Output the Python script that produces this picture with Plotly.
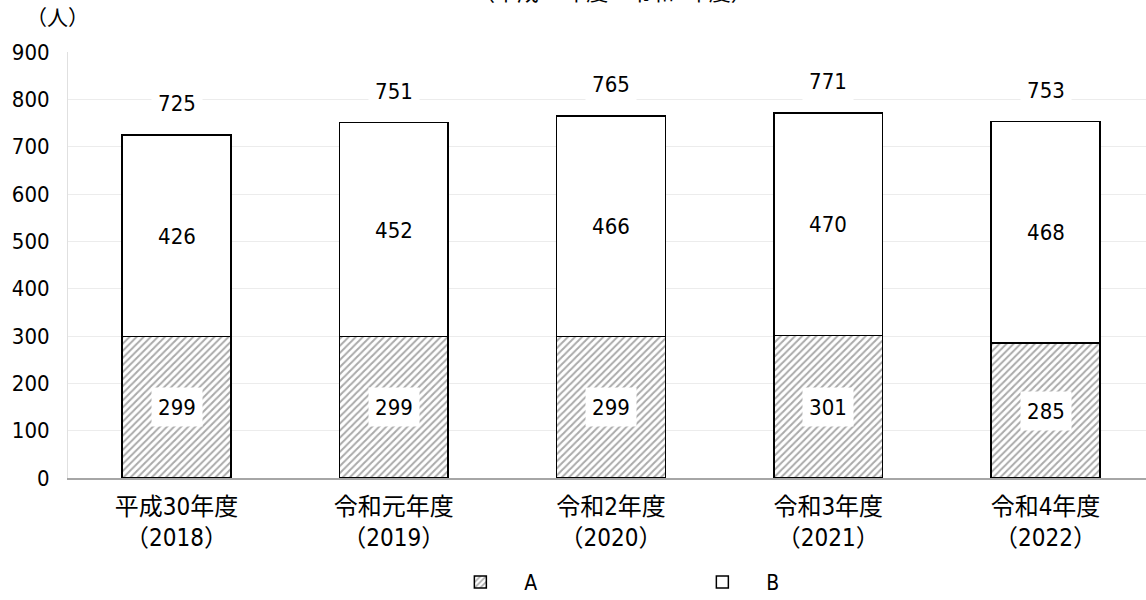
import plotly.graph_objects as go

categories = ["平成30年度<br>（2018）", "令和元年度<br>（2019）", "令和2年度<br>（2020）",
              "令和3年度<br>（2021）", "令和4年度<br>（2022）"]
series_a = [299, 299, 299, 301, 285]
series_b = [426, 452, 466, 470, 468]
totals = [725, 751, 765, 771, 753]
y_ticks = [0, 100, 200, 300, 400, 500, 600, 700, 800, 900]
title_text = "（平成30年度～令和4年度）"
unit_text = "（人）"

FONT = "DejaVu Sans Condensed, Noto Sans CJK JP, sans-serif"

fig = go.Figure()
fig.add_trace(go.Bar(
    x=categories, y=series_a, name="A", width=0.5,
    marker=dict(color="white", line=dict(color="black", width=1.5),
                pattern=dict(shape="/", fgcolor="#555555", bgcolor="white", size=5, solidity=0.4)),
))
fig.add_trace(go.Bar(
    x=categories, y=series_b, name="B", width=0.5,
    marker=dict(color="white", line=dict(color="black", width=1.5)),
))

ann = []
for c, a, b, t in zip(categories, series_a, series_b, totals):
    ann.append(dict(x=c, y=a / 2, text=str(a), showarrow=False, bgcolor="white",
                    width=48, height=36, font=dict(size=22, color="black", family=FONT)))
    ann.append(dict(x=c, y=a + b / 2, text=str(b), showarrow=False, bgcolor="white",
                    width=48, height=36, font=dict(size=22, color="black", family=FONT)))
    ann.append(dict(x=c, y=t, yshift=32, text=str(t), showarrow=False, bgcolor="white",
                    width=48, height=36, font=dict(size=22, color="black", family=FONT)))

ann.append(dict(xref="paper", yref="paper", x=0.506, y=1.106, yanchor="bottom", text=title_text,
                showarrow=False, font=dict(size=22, color="black", family=FONT)))
ann.append(dict(xref="paper", yref="paper", x=-0.0093, y=1.08, xanchor="center", yanchor="middle",
                text=unit_text, showarrow=False, font=dict(size=21, color="black", family=FONT)))

fig.update_layout(
    width=1146, height=600,
    margin=dict(l=68, r=0, t=52, b=122, autoexpand=False),
    barmode="stack",
    paper_bgcolor="white", plot_bgcolor="white",
    font=dict(family=FONT, size=21, color="black"),
    annotations=ann,
    showlegend=True,
    legend=dict(orientation="h", x=0.3417, xanchor="left", y=-0.245, yanchor="middle",
                font=dict(size=21, family=FONT), itemwidth=78, entrywidth=149,
                entrywidthmode="pixels", traceorder="normal"),
    xaxis=dict(range=[-0.4994, 4.4626], showgrid=False, showline=True, linecolor="#a6a6a6",
               linewidth=1.5, ticks="", ticklabelstandoff=6,
               tickfont=dict(size=24, family=FONT), fixedrange=True, automargin=False),
    yaxis=dict(range=[0, 900], tickvals=y_ticks, showgrid=True, gridcolor="#ececec", gridwidth=1,
               showline=True, linecolor="#e0e0e0", linewidth=1, ticks="", ticklabelstandoff=13,
               tickfont=dict(size=22, family=FONT), zeroline=False, automargin=False),
)

fig.write_html("out.html", config={"displayModeBar": False},
               post_script="document.body.style.margin='0';")
